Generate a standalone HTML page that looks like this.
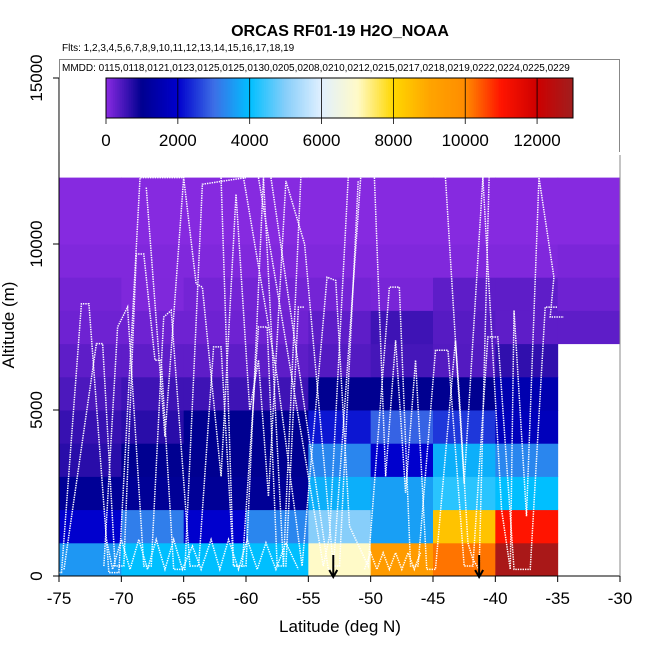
<!DOCTYPE html>
<html><head><meta charset="utf-8"><style>
html,body{margin:0;padding:0;background:#fff}
svg{display:block;font-family:"Liberation Sans",sans-serif}
</style></head><body>
<svg id="c" width="650" height="650" xmlns="http://www.w3.org/2000/svg">
<text x="340" y="36" text-anchor="middle" font-size="16" font-weight="bold">ORCAS RF01-19 H2O_NOAA</text>
<text x="62" y="51" font-size="10">Flts: 1,2,3,4,5,6,7,8,9,10,11,12,13,14,15,16,17,18,19</text>
<g id="plot"></g>
<g id="tracks"></g>
<g id="axes"></g>
<g id="legend"></g>
</svg>
<script>
const NS="http://www.w3.org/2000/svg";
const latEdges=[-75,-70,-65,-60,-55,-50,-45,-40,-35,-30];
const altStep=1000;
const cellValues=[
[3500,4000,4000,4000,7000,9400,10200,12800,null],
[2000,3200,2000,3300,5000,3600,8400,11000,null],
[1100,1100,1100,1100,3800,3600,4300,4000,null],
[700,1000,1000,1000,3300,2000,3800,3300,null],
[600,700,1000,1000,2200,2900,2500,1700,null],
[450,550,550,550,1000,1000,1000,1500,null],
[320,320,320,320,400,500,400,650,null],
[200,200,200,200,320,550,380,320,320],
[160,80,160,160,160,130,320,320,200],
[70,70,70,70,70,70,70,70,110],
[30,30,30,30,30,30,30,30,30],
[30,30,30,30,30,30,30,30,30]];
const xTicks=[-75,-70,-65,-60,-55,-50,-45,-40,-35,-30];
const yTicks=[0,5000,10000,15000];
const cbTicks=[0,2000,4000,6000,8000,10000,12000];
const arrowLats=[-53.0,-41.3];
const flights=[
[[-75,100],[-74.8,100],[-73.2,8200],[-72.6,8200],[-71,100],[-70.2,100],[-68.5,12000],[-65,12000]],
[[-74.6,200],[-72,7000],[-71.5,7000],[-70.5,300],[-69.8,300],[-68.8,9700],[-68.2,9700],[-67.3,6500],[-66.8,6500],[-65.8,200],[-64.9,200],[-63.5,11800],[-60,12000]],
[[-71.4,300],[-70.3,7500],[-69.5,8100],[-68.2,300],[-67.6,300],[-66.6,7800],[-66,8000],[-64.5,300],[-63.8,300],[-62.6,6900],[-62,6900],[-61,300],[-60.3,300],[-59,7500],[-58.3,7500],[-57.5,300],[-56.8,300],[-55.8,8100],[-55.3,8100]],
[[-71.2,1100],[-70.7,200],[-70,1100],[-69.3,200],[-68.6,1100],[-67.9,200],[-67.2,1100],[-66.5,200],[-65.8,1100],[-65.1,200],[-64.3,900],[-63.6,200],[-62.8,1100],[-62.1,200],[-61.4,1100],[-60.6,200],[-59.9,1100],[-59.1,200],[-58.4,1000],[-57.6,200],[-56.8,1000],[-55.8,200]],
[[-68,11700],[-66.5,4200],[-65,12000],[-64,8800],[-63.5,8700],[-62,3000],[-60.8,11500],[-59.7,5000],[-59,6500],[-58.2,2400],[-56.8,11900],[-55.3,10000],[-54,4500],[-53,300],[-52.5,300],[-51,11900]],
[[-60.2,12000],[-57.5,6000],[-55.5,300],[-53.5,9000],[-52.8,8900],[-51.7,1500],[-50.2,300],[-48.5,8700],[-47.7,8700],[-46.8,300],[-46.2,300],[-44.8,6800],[-43.8,6800],[-42.5,300],[-41.8,300],[-40.6,7200],[-39.8,7200],[-38.5,200],[-37.2,200],[-36,8100],[-35,8100]],
[[-58,12000],[-53.4,200],[-53,200],[-50.8,12000]],
[[-59,12000],[-53.8,300],[-53.3,1200],[-51.8,12000]],
[[-50.5,200],[-50,700],[-49.5,200],[-49,700],[-48.5,200],[-48,700],[-47.5,200],[-47,700],[-46.5,200],[-46,700]],
[[-49.7,12000],[-48.8,3000],[-48,7100],[-47.2,2500],[-46.4,6500],[-45.5,200],[-44.8,200],[-43.2,7100],[-42.9,5500],[-42.2,1000],[-41.8,500],[-41.3,200],[-40.5,12000]],
[[-44,12000],[-42.5,2800],[-41,12000],[-39.5,2000],[-38.8,200],[-38.5,8000],[-37.5,1800],[-36.5,12000],[-35.3,9000],[-35.6,7800],[-34.5,7800]],
[[-62,12000],[-61,300],[-60,300],[-58.6,12000],[-57,300],[-55.6,12000]]
];
const X=v=>59+(v+75)*(561/45);
const Y=a=>576-a*0.0332;
const CB=v=>106+v*(467/13000);
const cmapStops=[[0,[138,43,226]],[1000,[0,0,144]],[2000,[0,0,205]],[3000,[60,110,230]],[4000,[0,191,255]],[5000,[135,206,250]],[6000,[225,240,255]],[7000,[255,250,200]],[8000,[255,215,0]],[9000,[255,165,0]],[10000,[255,140,0]],[11000,[255,20,0]],[12000,[205,0,0]],[13000,[160,30,30]]];
function cmap(v){
  for(let i=0;i<cmapStops.length-1;i++){const[a,ca]=cmapStops[i],[b,cb]=cmapStops[i+1];
    if(v<=b){const t=Math.max(0,(v-a)/(b-a));return `rgb(${ca.map((c,k)=>Math.round(c+(cb[k]-c)*t)).join(',')})`;}}
  return 'rgb(160,30,30)';}
function mk(tag,attrs,parent){const e=document.createElementNS(NS,tag);for(const k in attrs)e.setAttribute(k,attrs[k]);parent.appendChild(e);return e;}
const plot=document.getElementById('plot');
cellValues.forEach((row,r)=>row.forEach((v,c)=>{
  if(v===null)return;
  const x0=X(latEdges[c]),x1=X(latEdges[c+1]),y0=Y((r+1)*altStep),y1=Y(r*altStep);
  const e=mk('rect',{x:x0,y:y0,width:x1-x0+0.5,height:y1-y0+0.5,fill:cmap(v)},plot);
  
  
}));
const tr=document.getElementById('tracks');
flights.forEach(f=>{
  const e=mk('polyline',{points:f.map(p=>X(p[0])+','+Y(p[1])).join(' '),fill:'none',stroke:'#fff','stroke-width':1.5,'stroke-dasharray':'1.4 1'},tr);
  
  
});
arrowLats.forEach(l=>{
  const g=mk('g',{stroke:'#000','stroke-width':2,fill:'none'},tr);
  
  
  mk('line',{x1:X(l),y1:555,x2:X(l),y2:577},g);
  mk('polyline',{points:`${X(l)-4},570 ${X(l)},577 ${X(l)+4},570`},g);
});
const ax=document.getElementById('axes');
mk('line',{x1:59,y1:576,x2:620,y2:576,stroke:'#000'},ax);
mk('line',{x1:59,y1:Y(15000),x2:59,y2:576,stroke:'#000'},ax);
mk('line',{x1:620,y1:155,x2:620,y2:576,stroke:'#888'},ax);
xTicks.forEach(t=>{
  mk('line',{x1:X(t),y1:576,x2:X(t),y2:582,stroke:'#000'},ax);
  const e=mk('text',{x:X(t),y:604,'text-anchor':'middle','font-size':17},ax);e.textContent=t;
  
  
});
yTicks.forEach(t=>{
  mk('line',{x1:53,y1:Y(t),x2:59,y2:Y(t),stroke:'#000'},ax);
  const e=mk('text',{x:42,y:Y(t),'text-anchor':'middle','font-size':17,transform:`rotate(-90 42 ${Y(t)})`},ax);e.textContent=t;
  
  
});
let e=mk('text',{x:340,y:632,'text-anchor':'middle','font-size':17},ax);e.textContent='Latitude (deg N)';


e=mk('text',{x:14,y:325,'text-anchor':'middle','font-size':17,transform:'rotate(-90 14 325)'},ax);e.textContent='Altitude (m)';


const lg=document.getElementById('legend');
mk('polyline',{points:'59.5,152 59.5,59.5 619.5,59.5 619.5,152',fill:'none',stroke:'#888'},lg);
e=mk('text',{x:62,y:71,'font-size':10},lg);e.textContent='MMDD: 0115,0118,0121,0123,0125,0125,0130,0205,0208,0210,0212,0215,0217,0218,0219,0222,0224,0225,0229';


for(let v=0;v<13000;v+=50){mk('rect',{x:CB(v),y:78,width:CB(v+50)-CB(v)+0.4,height:40,fill:cmap(v+25)},lg);}
mk('rect',{x:106,y:78,width:467,height:40,fill:'none',stroke:'#000'},lg);
cbTicks.forEach(t=>{
  mk('line',{x1:CB(t),y1:78,x2:CB(t),y2:124,stroke:'#000','stroke-width':0.8},lg);
  const el=mk('text',{x:CB(t),y:146,'text-anchor':'middle','font-size':17},lg);el.textContent=t;
  
  
});
</script>
</body></html>
